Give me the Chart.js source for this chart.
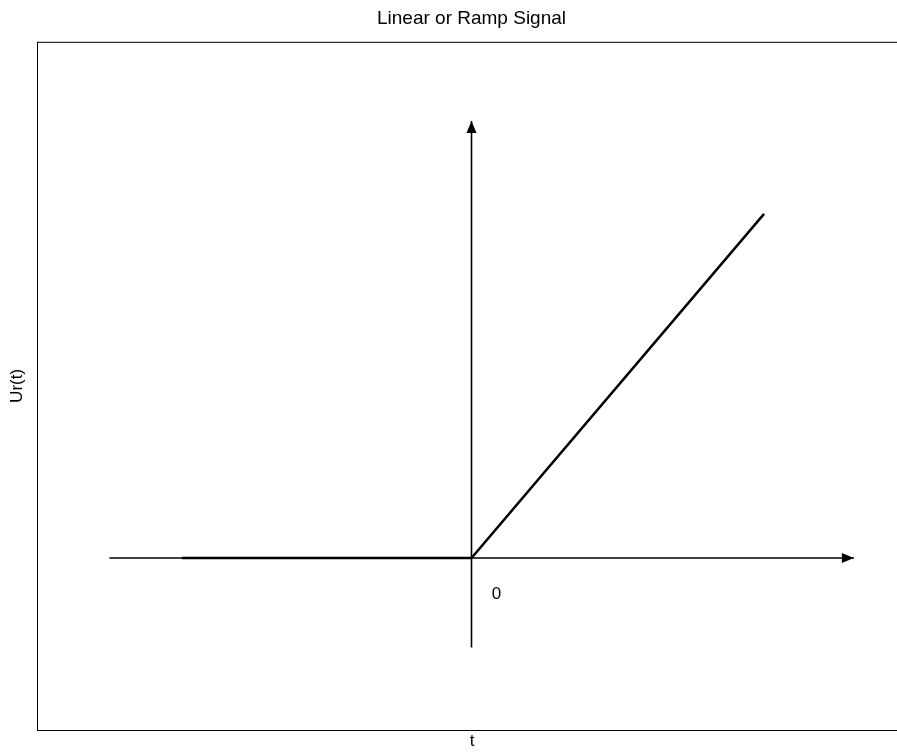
<!DOCTYPE html>
<html>
<head>
<meta charset="utf-8">
<script src="https://cdn.jsdelivr.net/npm/chart.js@4/dist/chart.umd.min.js"></script>
<style>
    html, body { margin: 0; padding: 0; background: #fff; overflow: hidden; }
    #wrap { width: 936px; height: 753px; }
</style>
</head>
<body>
<div id="wrap"><canvas id="rampChart" width="936" height="753"></canvas></div>
<script>
// ramp signal: zero for t < 0, then rises with slope 1
const tValues = [-10, 0, 10.1];
const rampValues = [0, 0, 10];

// axis lines drawn through the origin (with arrow at the end)
const horizAxisT = [-12.5, 13.2];
const vertAxisU = [-2.6, 12.7];

// plot limits
const tRange = [-15, 15];
const uRange = [-5, 15];

const chartTitle = 'Linear or Ramp Signal';
const xLabel = 't';
const yLabel = 'Ur(t)';
const originLabel = '0';

const FONT = '"Liberation Sans", Arial, sans-serif';

// frame (top, left, bottom), arrow heads and text labels
const decorPlugin = {
    id: 'decor',
    afterDatasetsDraw(chart) {
        const ctx = chart.ctx;
        const area = chart.chartArea;
        const xs = chart.scales.x;
        const ys = chart.scales.y;

        ctx.save();
        ctx.strokeStyle = '#000';
        ctx.lineWidth = 1;
        ctx.strokeRect(area.left + 0.5, area.top + 0.5, area.right - area.left, area.bottom - area.top);

        // arrow heads
        ctx.fillStyle = '#000';
        const hx = xs.getPixelForValue(horizAxisT[1]);
        const hy = ys.getPixelForValue(0);
        ctx.beginPath();
        ctx.moveTo(hx, hy);
        ctx.lineTo(hx - 12, hy - 5);
        ctx.lineTo(hx - 12, hy + 5);
        ctx.closePath();
        ctx.fill();

        const vx = xs.getPixelForValue(0);
        const vy = ys.getPixelForValue(vertAxisU[1]);
        ctx.beginPath();
        ctx.moveTo(vx, vy);
        ctx.lineTo(vx - 5, vy + 12);
        ctx.lineTo(vx + 5, vy + 12);
        ctx.closePath();
        ctx.fill();

        // labels
        ctx.font = '17px ' + FONT;
        ctx.textAlign = 'center';
        ctx.textBaseline = 'middle';
        ctx.fillText(originLabel, xs.getPixelForValue(0.86), ys.getPixelForValue(-1.05));
        ctx.fillText(xLabel, 472, 741);

        ctx.translate(17, (area.top + area.bottom) / 2);
        ctx.rotate(-Math.PI / 2);
        ctx.fillText(yLabel, 0, 0);
        ctx.restore();
    }
};

const toPoints = (xs, ys) => xs.map((v, i) => ({ x: v, y: ys[i] }));

new Chart(document.getElementById('rampChart').getContext('2d'), {
    type: 'line',
    data: {
        datasets: [
            {
                label: 'ramp',
                data: toPoints(tValues, rampValues),
                borderColor: '#000',
                borderWidth: 2.5,
                pointRadius: 0,
                tension: 0,
                order: 0
            },
            {
                label: 'time axis',
                data: toPoints(horizAxisT, [0, 0]),
                borderColor: '#000',
                borderWidth: 1.6,
                pointRadius: 0,
                order: 1
            },
            {
                label: 'amplitude axis',
                data: toPoints([0, 0], vertAxisU),
                borderColor: '#000',
                borderWidth: 1.6,
                pointRadius: 0,
                order: 1
            }
        ]
    },
    options: {
        responsive: false,
        animation: false,
        layout: { padding: { left: 37, right: 30, top: 0, bottom: 23 } },
        scales: {
            x: { type: 'linear', display: false, min: tRange[0], max: tRange[1] },
            y: { type: 'linear', display: false, min: uRange[0], max: uRange[1] }
        },
        plugins: {
            legend: { display: false },
            tooltip: { enabled: false },
            title: {
                display: true,
                text: chartTitle,
                color: '#000',
                font: { family: FONT, size: 19, weight: 'normal' },
                padding: { top: 7, bottom: 12 }
            }
        }
    },
    plugins: [decorPlugin]
});
</script>
</body>
</html>
